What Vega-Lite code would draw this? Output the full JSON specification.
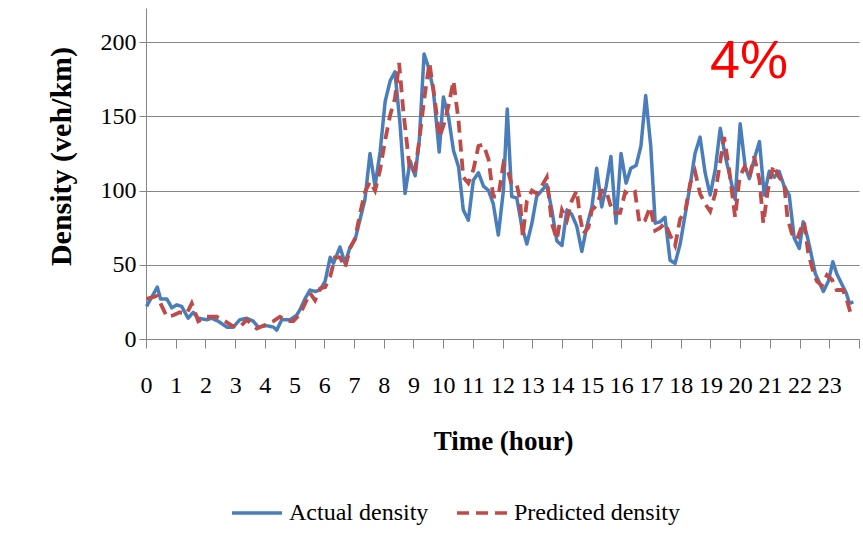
{
  "$schema": "https://vega.github.io/schema/vega-lite/v6.json",
  "width": 713,
  "height": 331,
  "autosize": {"type": "none"},
  "padding": {"left": 146, "top": 8, "right": 4, "bottom": 200},
  "background": "#ffffff",
  "config": {
    "view": {"stroke": null},
    "font": "Liberation Serif",
    "legend": {
      "orient": "none", "legendX": 84, "legendY": 478, "direction": "horizontal", "title": null,
      "symbolType": "stroke", "symbolSize": 2500, "symbolStrokeWidth": 3.5,
      "labelFont": "Liberation Serif", "labelFontSize": 24, "labelColor": "#000000", "labelLimit": 0,
      "labelOffset": 5, "columnPadding": 21, "padding": 0
    }
  },
  "datasets": {
    "actual": [
      {"hour":0.02,"density":22},{"hour":0.38,"density":35},{"hour":0.49,"density":27},{"hour":0.7,"density":27},{"hour":0.87,"density":21},
      {"hour":1.03,"density":23},{"hour":1.2,"density":22},{"hour":1.42,"density":14},{"hour":1.59,"density":18},{"hour":1.76,"density":14},
      {"hour":2.04,"density":13},{"hour":2.21,"density":14},{"hour":2.43,"density":12},{"hour":2.72,"density":8},{"hour":2.94,"density":8},
      {"hour":3.16,"density":13},{"hour":3.39,"density":14},{"hour":3.61,"density":12},{"hour":3.78,"density":8},{"hour":4.06,"density":9},
      {"hour":4.29,"density":8},{"hour":4.4,"density":6},{"hour":4.57,"density":13},{"hour":4.85,"density":13},{"hour":5.07,"density":16},
      {"hour":5.19,"density":20},{"hour":5.35,"density":27},{"hour":5.52,"density":33},{"hour":5.69,"density":32},{"hour":5.86,"density":33},
      {"hour":6.03,"density":39},{"hour":6.2,"density":55},{"hour":6.31,"density":51},{"hour":6.53,"density":62},{"hour":6.7,"density":51},
      {"hour":6.87,"density":62},{"hour":7.04,"density":67},{"hour":7.21,"density":81},{"hour":7.37,"density":94},{"hour":7.54,"density":125},
      {"hour":7.71,"density":103},{"hour":7.88,"density":126},{"hour":8.05,"density":160},{"hour":8.22,"density":174},{"hour":8.38,"density":180},
      {"hour":8.55,"density":145},{"hour":8.72,"density":98},{"hour":8.89,"density":120},{"hour":9.06,"density":110},{"hour":9.2,"density":134},
      {"hour":9.36,"density":192},{"hour":9.51,"density":183},{"hour":9.67,"density":168},{"hour":9.87,"density":126},{"hour":10.01,"density":163},
      {"hour":10.18,"density":150},{"hour":10.35,"density":127},{"hour":10.52,"density":116},{"hour":10.68,"density":87},{"hour":10.85,"density":80},
      {"hour":11.02,"density":107},{"hour":11.19,"density":112},{"hour":11.36,"density":103},{"hour":11.53,"density":100},{"hour":11.69,"density":91},
      {"hour":11.86,"density":70},{"hour":12.03,"density":100},{"hour":12.16,"density":155},{"hour":12.31,"density":96},{"hour":12.48,"density":95},
      {"hour":12.65,"density":76},{"hour":12.82,"density":64},{"hour":12.99,"density":78},{"hour":13.15,"density":96},{"hour":13.32,"density":100},
      {"hour":13.49,"density":104},{"hour":13.66,"density":87},{"hour":13.83,"density":66},{"hour":14.0,"density":63},{"hour":14.17,"density":87},
      {"hour":14.33,"density":84},{"hour":14.5,"density":76},{"hour":14.67,"density":59},{"hour":14.84,"density":76},{"hour":15.01,"density":89},
      {"hour":15.17,"density":115},{"hour":15.34,"density":89},{"hour":15.49,"density":103},{"hour":15.65,"density":123},{"hour":15.82,"density":78},
      {"hour":15.99,"density":125},{"hour":16.16,"density":105},{"hour":16.32,"density":115},{"hour":16.5,"density":117},{"hour":16.66,"density":130},
      {"hour":16.82,"density":164},{"hour":16.99,"density":130},{"hour":17.14,"density":78},{"hour":17.31,"density":79},{"hour":17.47,"density":82},
      {"hour":17.64,"density":53},{"hour":17.81,"density":51},{"hour":17.98,"density":64},{"hour":18.15,"density":84},{"hour":18.32,"density":104},
      {"hour":18.48,"density":125},{"hour":18.65,"density":136},{"hour":18.82,"density":112},{"hour":18.99,"density":97},{"hour":19.16,"density":114},
      {"hour":19.33,"density":142},{"hour":19.49,"density":124},{"hour":19.66,"density":109},{"hour":19.83,"density":94},{"hour":20.0,"density":145},
      {"hour":20.17,"density":116},{"hour":20.31,"density":108},{"hour":20.47,"density":121},{"hour":20.65,"density":133},{"hour":20.81,"density":97},
      {"hour":20.98,"density":113},{"hour":21.15,"density":109},{"hour":21.31,"density":113},{"hour":21.48,"density":103},{"hour":21.65,"density":97},
      {"hour":21.82,"density":68},{"hour":21.99,"density":61},{"hour":22.12,"density":79},{"hour":22.26,"density":69},{"hour":22.36,"density":60},
      {"hour":22.53,"density":44},{"hour":22.69,"density":37},{"hour":22.8,"density":32},{"hour":22.97,"density":39},{"hour":23.12,"density":52},
      {"hour":23.25,"density":44},{"hour":23.42,"density":37},{"hour":23.57,"density":31},{"hour":23.68,"density":24},{"hour":23.81,"density":25}
    ],
    "predicted": [
      {"hour":0.02,"density":27},{"hour":0.37,"density":29},{"hour":0.56,"density":21},{"hour":0.7,"density":15},{"hour":0.92,"density":16},
      {"hour":1.14,"density":18},{"hour":1.37,"density":17},{"hour":1.54,"density":24},{"hour":1.76,"density":12},{"hour":2.04,"density":15},
      {"hour":2.38,"density":15},{"hour":2.66,"density":12},{"hour":2.89,"density":9},{"hour":3.16,"density":8},{"hour":3.39,"density":13},
      {"hour":3.73,"density":7},{"hour":4.06,"density":10},{"hour":4.29,"density":12},{"hour":4.51,"density":15},{"hour":4.74,"density":12},
      {"hour":4.96,"density":12},{"hour":5.19,"density":17},{"hour":5.52,"density":31},{"hour":5.69,"density":26},{"hour":5.86,"density":34},
      {"hour":6.03,"density":35},{"hour":6.2,"density":42},{"hour":6.36,"density":55},{"hour":6.53,"density":55},{"hour":6.7,"density":48},
      {"hour":6.87,"density":61},{"hour":7.04,"density":68},{"hour":7.21,"density":85},{"hour":7.37,"density":99},{"hour":7.54,"density":106},
      {"hour":7.71,"density":100},{"hour":7.88,"density":114},{"hour":8.05,"density":134},{"hour":8.22,"density":151},{"hour":8.38,"density":162},
      {"hour":8.52,"density":186},{"hour":8.66,"density":154},{"hour":8.78,"density":132},{"hour":8.89,"density":112},{"hour":9.06,"density":114},
      {"hour":9.2,"density":134},{"hour":9.36,"density":161},{"hour":9.54,"density":186},{"hour":9.71,"density":163},{"hour":9.88,"density":136},
      {"hour":10.03,"density":145},{"hour":10.18,"density":157},{"hour":10.35,"density":174},{"hour":10.52,"density":147},{"hour":10.68,"density":109},
      {"hour":10.85,"density":105},{"hour":11.02,"density":114},{"hour":11.19,"density":130},{"hour":11.36,"density":131},{"hour":11.53,"density":121},
      {"hour":11.69,"density":96},{"hour":11.86,"density":96},{"hour":12.03,"density":118},{"hour":12.2,"density":112},{"hour":12.31,"density":104},
      {"hour":12.48,"density":104},{"hour":12.59,"density":94},{"hour":12.68,"density":69},{"hour":12.82,"density":93},{"hour":12.99,"density":100},
      {"hour":13.15,"density":98},{"hour":13.32,"density":103},{"hour":13.49,"density":109},{"hour":13.66,"density":78},{"hour":13.83,"density":67},
      {"hour":14.0,"density":87},{"hour":14.17,"density":80},{"hour":14.33,"density":93},{"hour":14.5,"density":100},{"hour":14.61,"density":82},
      {"hour":14.72,"density":71},{"hour":14.89,"density":75},{"hour":15.01,"density":87},{"hour":15.17,"density":90},{"hour":15.34,"density":100},
      {"hour":15.49,"density":100},{"hour":15.62,"density":91},{"hour":15.73,"density":85},{"hour":15.96,"density":85},{"hour":16.13,"density":99},
      {"hour":16.3,"density":97},{"hour":16.46,"density":99},{"hour":16.61,"density":78},{"hour":16.8,"density":80},{"hour":16.97,"density":89},
      {"hour":17.14,"density":73},{"hour":17.31,"density":75},{"hour":17.47,"density":78},{"hour":17.64,"density":70},{"hour":17.81,"density":63},
      {"hour":17.98,"density":81},{"hour":18.15,"density":86},{"hour":18.32,"density":105},{"hour":18.48,"density":113},{"hour":18.65,"density":98},
      {"hour":18.82,"density":91},{"hour":18.99,"density":86},{"hour":19.16,"density":98},{"hour":19.3,"density":116},{"hour":19.46,"density":136},
      {"hour":19.63,"density":114},{"hour":19.83,"density":82},{"hour":19.98,"density":109},{"hour":20.15,"density":116},{"hour":20.31,"density":109},
      {"hour":20.47,"density":123},{"hour":20.65,"density":107},{"hour":20.78,"density":78},{"hour":20.93,"density":100},{"hour":21.12,"density":117},
      {"hour":21.31,"density":109},{"hour":21.48,"density":105},{"hour":21.59,"density":82},{"hour":21.74,"density":71},{"hour":21.91,"density":67},
      {"hour":22.08,"density":76},{"hour":22.15,"density":79},{"hour":22.29,"density":58},{"hour":22.45,"density":46},{"hour":22.58,"density":39},
      {"hour":22.75,"density":36},{"hour":22.92,"density":43},{"hour":23.09,"density":40},{"hour":23.25,"density":33},{"hour":23.46,"density":33},
      {"hour":23.61,"density":25},{"hour":23.76,"density":14}
    ],
    "notes": [{"label": "4%", "hour": 20.3, "density": 186.5}]
  },
  "encoding": {
    "x": {
      "field": "hour", "type": "quantitative",
      "scale": {"domain": [0, 24], "nice": false, "zero": false},
      "axis": {
        "values": [0,1,2,3,4,5,6,7,8,9,10,11,12,13,14,15,16,17,18,19,20,21,22,23,24],
        "labelExpr": "datum.value == 24 ? '' : datum.label",
        "grid": false,
        "domainColor": "#868686", "tickColor": "#868686", "tickSize": 9,
        "labelFont": "Liberation Serif", "labelFontSize": 24, "labelColor": "#000000",
        "labelPadding": 25, "labelOverlap": false, "labelBound": false, "labelFlush": false,
        "title": "Time (hour)", "titleFont": "Liberation Serif", "titleFontSize": 27, "titleFontWeight": "bold",
        "titleColor": "#000000", "titleBaseline": "middle", "titleY": 102, "titleX": 357, "titleAnchor": "middle"
      }
    },
    "y": {
      "field": "density", "type": "quantitative",
      "scale": {"domain": [0, 223], "nice": false},
      "axis": {
        "values": [0, 50, 100, 150, 200],
        "grid": true, "gridColor": "#868686", "gridWidth": 1,
        "domainColor": "#868686", "tickColor": "#868686", "tickSize": 7,
        "labelFont": "Liberation Serif", "labelFontSize": 24, "labelColor": "#000000", "labelPadding": 3,
        "title": "Density (veh/km)", "titleFont": "Liberation Serif", "titleFontSize": 30, "titleFontWeight": "bold",
        "titleColor": "#000000", "titleAngle": 270, "titleBaseline": "middle", "titleAlign": "center",
        "titleX": -85, "titleY": 148
      }
    }
  },
  "layer": [
    {
      "data": {"name": "actual"},
      "mark": {"type": "line", "strokeWidth": 3.5, "strokeJoin": "round"},
      "encoding": {
        "color": {
          "datum": "Actual density", "type": "nominal",
          "scale": {"domain": ["Actual density", "Predicted density"], "range": ["#4A7EBB", "#BE4B48"]}
        },
        "strokeDash": {
          "datum": "Actual density", "type": "nominal",
          "scale": {"domain": ["Actual density", "Predicted density"], "range": [[1, 0], [12, 7]]}
        }
      }
    },
    {
      "data": {"name": "predicted"},
      "mark": {"type": "line", "strokeWidth": 3.8, "strokeCap": "butt"},
      "encoding": {
        "color": {"datum": "Predicted density", "type": "nominal"},
        "strokeDash": {"datum": "Predicted density", "type": "nominal"}
      }
    },
    {
      "data": {"name": "notes"},
      "mark": {"type": "text", "font": "Liberation Sans", "fontSize": 54, "color": "#FF0000", "align": "center", "baseline": "middle"},
      "encoding": {
        "text": {"field": "label"}
      }
    }
  ]
}
